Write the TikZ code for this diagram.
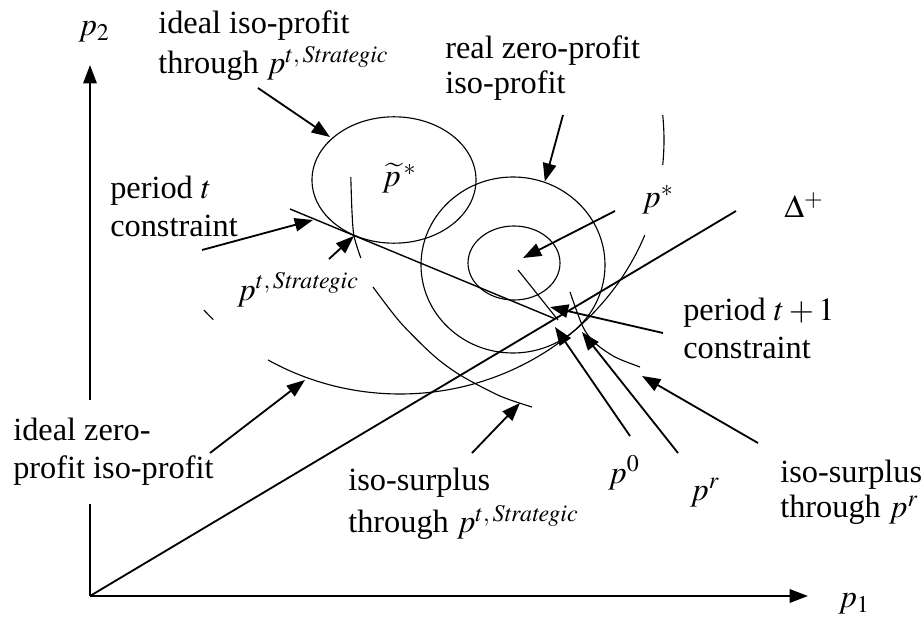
\documentclass[tikz,border=0pt]{standalone}
\usepackage{mathptmx}
\usepackage{fontspec}
\setmainfont{Liberation Serif}
\usetikzlibrary{arrows.meta}
\tikzstyle{arrow} = [line width=1.3pt, -{Triangle[length=13pt,width=9.5pt]}]
\tikzstyle{curve} = [line width=0.8pt]
\tikzstyle{lbl} = [inner sep=0pt, align=left, anchor=north west, font=\fontsize{23}{27}\selectfont]
\tikzstyle{sym} = [inner sep=0pt, anchor=base west, font=\fontsize{23}{27}\selectfont]
\newcommand{\pstrat}{p^{t,\,\mathit{Strategic}}}

\begin{document}
\begin{tikzpicture}
\useasboundingbox (-2.25,-0.625) rectangle (20.85,14.9);

% Axes
\coordinate (O) at (0,0);
\draw[arrow] (O) -- (0,13.275) coordinate (ytip);
\draw[arrow] (O) -- (17.95,0) coordinate (xtip);
\node[sym, anchor=center] (p2) at (0.1,14.1) {$p_2$};
\node[sym, anchor=center] (p1) at (19.1,-0.2) {$p_1$};

% Diagonal
\coordinate (dtop) at (16.15,9.625);
\draw[line width=1.3pt] (O) -- (dtop);
\node[sym] (delta) at (17.35,9.45) {$\Delta^{+}$};

% Points
\coordinate (pts) at (6.6,9.0);
\coordinate (p0) at (11.625,6.93);
\coordinate (pr) at (12.3,6.6);
\coordinate (pstar) at (10.825,8.45);

% Iso-profit curves
\draw[curve] (7.6,10.4) ellipse [x radius=2.05, y radius=1.58];
\draw[curve] (10.575,8.275) ellipse [x radius=2.3, y radius=2.2];
\draw[curve] (10.6,8.325) ellipse [x radius=1.15, y radius=0.925];
\draw[curve] (7.75,11.4) ++(240:6.6 and 6.35) arc[start angle=240, end angle=338, x radius=6.6, y radius=6.35];
\draw[curve] (7.75,11.4) ++(222:6.6 and 6.35) arc[start angle=222, end angle=225, x radius=6.6, y radius=6.35];
\draw[curve] (7.75,11.4) ++(-5.6:6.6 and 6.35) arc[start angle=-5.6, end angle=5.6, x radius=6.6, y radius=6.35];

% Iso-surplus curves
\draw[curve] plot[smooth] coordinates {(6.52,10.47) (6.55,9.6) (pts) (6.77,8.45)};
\draw[curve] plot[smooth] coordinates {(7.075,7.725) (7.75,6.85) (8.575,6.025) (9.25,5.525) (10.25,5.0) (11.05,4.725)};
\draw[curve] plot[smooth] coordinates {(12.0,7.6) (12.325,6.725) (12.625,6.325) (13.125,5.975) (13.75,5.725)};

% Constraints
\draw[line width=1pt] (5.0,9.675) -- (p0);
\draw[curve] (10.7,8.15) -- (11.7,6.9);

% Labels
\node[lbl, font=\fontsize{23}{29}\selectfont] (idealIso) at (1.7,14.65) {ideal iso-profit\\through $\pstrat$};
\node[lbl, font=\fontsize{23}{25}\selectfont] (realZero) at (8.875,14.025) {real zero-profit\\iso-profit};
\node[lbl] (perT) at (0.5,10.5) {period $t$\\constraint};
\node[lbl] (perT1) at (14.825,7.45) {period $t+1$\\constraint};
\node[lbl, fill=white, inner ysep=0.45cm] (idealZero) at (-1.925,4.9) {ideal zero-\\profit iso-profit};
\node[lbl, font=\fontsize{23}{30}\selectfont] (surpStrat) at (6.45,3.2) {iso-surplus\\through $\pstrat$};
\node[lbl, font=\fontsize{23}{25}\selectfont] (surpR) at (17.25,3.4) {iso-surplus\\through $p^{r}$};
\node[sym] (pS) at (3.675,7.4) {$\pstrat$};
\node[sym] (pTilde) at (7.3,10.225) {$\widetilde{p}^{\,*}$};
\node[sym] (pStar) at (13.8,9.7) {$p^{*}$};
\node[sym] (p0lbl) at (12.95,2.825) {$p^{0}$};
\node[sym] (prlbl) at (15.0,2.4) {$p^{r}$};

% Pointer arrows
\coordinate (aIdealIso) at (4.2,12.7);
\coordinate (aRealZero) at (11.825,12.025);
\coordinate (aPerT) at (2.8,8.65);
\coordinate (aPS) at (5.975,8.425);
\coordinate (aPStar) at (13.125,9.625);
\coordinate (aPerT1) at (14.325,6.575);
\coordinate (aP0) at (13.5,4.0);
\coordinate (aPr) at (14.7,3.575);
\coordinate (aSurpR) at (16.7,3.825);
\coordinate (aIdealZero) at (3.0,3.575);
\coordinate (aSurpStrat) at (9.55,3.575);
\draw[arrow] (aIdealIso) -- (6.0,11.475);
\draw[arrow] (aRealZero) -- (11.37,10.36);
\draw[arrow] (aPerT) -- (5.575,9.4);
\draw[arrow] (aPS) -- (pts);
\draw[arrow] (aPStar) -- (pstar);
\draw[arrow] (aPerT1) -- (11.5,7.225);
\draw[arrow] (aP0) -- (11.625,6.725);
\draw[arrow] (aPr) -- (pr);
\draw[arrow] (aSurpR) -- (13.8,5.5);
\draw[arrow] (aIdealZero) -- (5.375,5.4);
\draw[arrow] (aSurpStrat) -- (10.75,4.825);

\end{tikzpicture}
\end{document}
